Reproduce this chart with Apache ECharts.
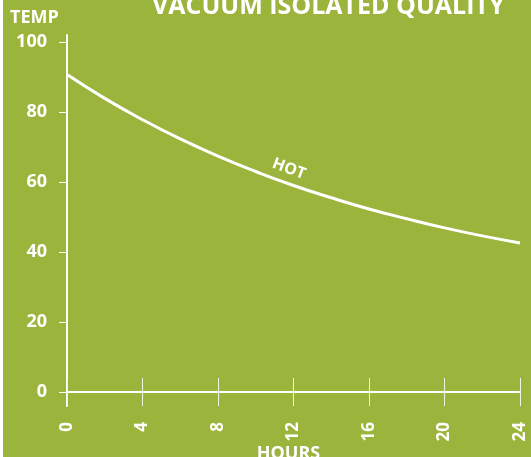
<!DOCTYPE html>
<html>
<head>
<meta charset="utf-8">
<title>hot</title>
<script src="https://cdn.jsdelivr.net/npm/echarts@6/dist/echarts.min.js"></script>
<style>
  body { margin: 0; background: #fff; }
  #chart { width: 531px; height: 457px; }
</style>
</head>
<body>
<div id="chart"></div>
<script>
// hours since filling, temperature
var hours = [0, 2, 4, 6, 8, 10, 12, 14, 16, 18, 20, 22, 24];
var temp = [90.7, 83.9, 77.8, 72.3, 67.4, 63.0, 59.0, 55.5, 52.3, 49.5, 46.9, 44.6, 42.6];
var yTicks = [0, 20, 40, 60, 80, 100];

var font = '"Open Sans", "DejaVu Sans", sans-serif';
var chart = echarts.init(document.getElementById('chart'));

var option = {
  backgroundColor: '#9ab43c',
  animation: false,
  title: {
    text: 'VACUUM ISOLATED QUALITY',
    left: 147,
    top: -11,
    textStyle: { color: '#fff', fontFamily: font, fontWeight: 'bold', fontSize: 25 }
  },
  grid: { left: 67, right: 11, top: 35, bottom: 51, outerBoundsMode: 'none', containLabel: false },
  xAxis: {
    // axis sits at the grid bottom; long inside ticks cross the zero line
    type: 'value',
    min: 0, max: 24, interval: 4,
    axisLine: { show: false, onZero: false },
    axisTick: { show: true, inside: true, length: 28, lineStyle: { color: '#f0f4e0', width: 1 } },
    axisLabel: {
      rotate: 90, margin: 16, color: '#fff',
      fontFamily: font, fontWeight: 'bold', fontSize: 17
    },
    splitLine: { show: false },
    name: 'HOURS', nameLocation: 'middle', nameGap: 39, nameMoveOverlap: false,
    nameTextStyle: { color: '#fff', fontFamily: font, fontWeight: 'bold', fontSize: 18, padding: [0, 10, 0, 0] }
  },
  yAxis: {
    type: 'value',
    min: -4, max: 102,
    axisLine: { show: true, onZero: false, lineStyle: { color: '#fff', width: 2 } },
    axisTick: { show: true, length: 8, customValues: yTicks, lineStyle: { color: '#fff', width: 1 } },
    axisLabel: {
      customValues: yTicks, margin: 20, color: '#fff',
      fontFamily: font, fontWeight: 'bold', fontSize: 18
    },
    splitLine: { show: false }
  },
  graphic: [
    { type: 'rect', left: 0, top: 0, shape: { width: 3, height: 457 }, style: { fill: '#fff' } },
    {
      type: 'text', left: 10, top: 9,
      style: { text: 'TEMP', fill: '#fff', font: 'bold 18px ' + font }
    },
    {
      type: 'text', x: 289, y: 169, rotation: -0.36,
      style: { text: 'HOT', fill: '#fff', font: 'bold 16px ' + font, align: 'center', verticalAlign: 'middle' }
    }
  ],
  series: [{
    type: 'line',
    smooth: true,
    symbol: 'none',
    lineStyle: { color: '#fff', width: 3 },
    data: hours.map(function (h, i) { return [h, temp[i]]; }),
    markLine: {
      silent: true,
      symbol: 'none',
      label: { show: false },
      lineStyle: { color: '#fff', width: 2, type: 'solid' },
      data: [{ yAxis: 0 }]
    }
  }]
};
chart.setOption(option);
</script>
</body>
</html>
